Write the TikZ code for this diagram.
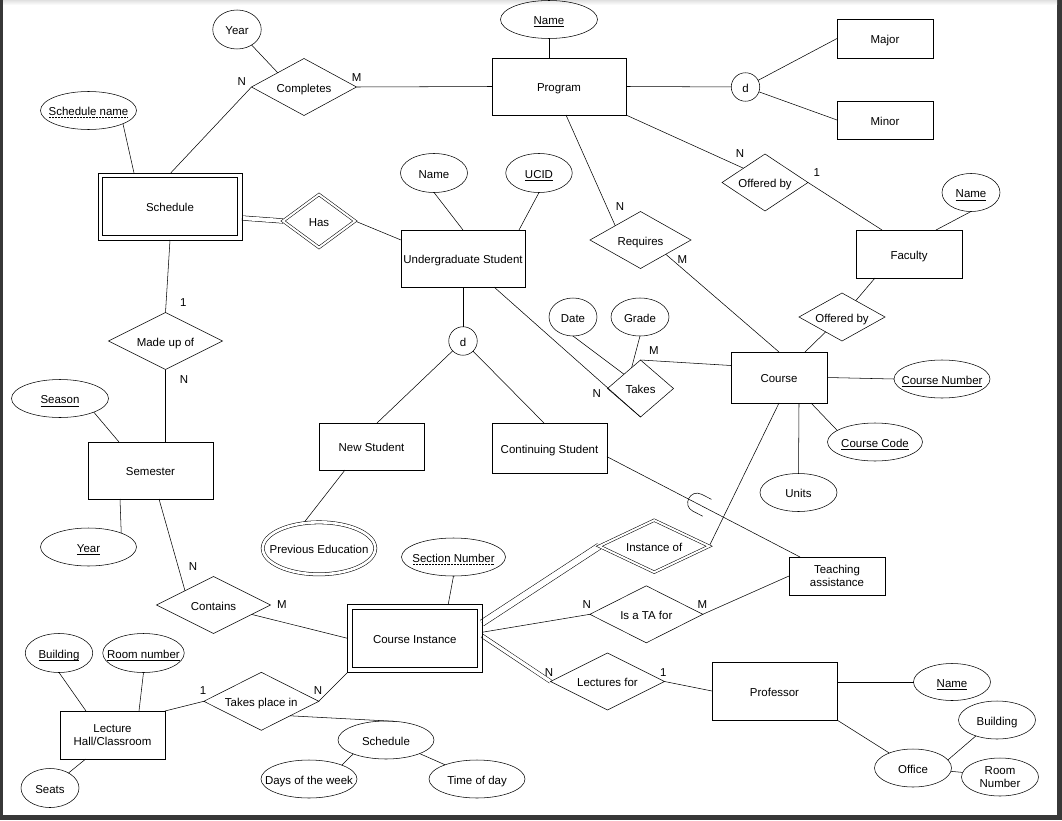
\documentclass[tikz,border=0pt]{standalone}
\usepackage{fontspec}
\setmainfont{Liberation Sans}
\usetikzlibrary{shapes.geometric,calc}
\pgfdeclarelayer{page}
\pgfdeclarelayer{bg}
\pgfsetlayers{page,bg,main}
\newcommand{\zb}[1]{\makebox[0pt]{#1}}
\newcommand{\uln}[1]{\setbox0\hbox{#1}\rlap{\copy0}\raisebox{-1.8pt}{\rule{\wd0}{0.55pt}}}
\newcommand{\dotuln}[1]{\setbox0\hbox{#1}\rlap{\copy0}\raisebox{-1.8pt}{\hbox to \wd0{\leaders\hbox to 1.1pt{\hss\rule{0.55pt}{0.55pt}\hss}\hfill}}}
\begin{document}
\begin{tikzpicture}[x=0.75pt,y=-0.75pt,line width=0.8pt,
 every node/.style={font=\fontsize{8.6pt}{9.8pt}\selectfont,inner sep=0pt,outer sep=0pt},
 tx/.style={text height=8pt,text depth=0pt},
 ent/.style 2 args={draw,rectangle,align=center,tx,minimum width=#1*0.75pt,minimum height=#2*0.75pt},
 ment/.style 2 args={draw,rectangle,align=center,minimum width=#1*0.75pt,minimum height=#2*0.75pt},
 rel/.style 2 args={draw,diamond,aspect=1.8,tx,minimum width=#1*0.75pt,minimum height=#2*0.75pt},
 wrel/.style 2 args={draw,diamond,aspect=1.8,tx,double,double distance=1.5pt,minimum width=#1*0.75pt,minimum height=#2*0.75pt},
 att/.style 2 args={draw,ellipse,tx,minimum width=#1*0.75pt,minimum height=#2*0.75pt},
 matt/.style 2 args={draw,ellipse,tx,double,double distance=2pt,minimum width=#1*0.75pt,minimum height=#2*0.75pt},
 disj/.style={draw,circle,tx,minimum size=28.5*0.75pt},
 dbl/.style={double,double distance=#1},
]
\useasboundingbox (0,0) rectangle (1062,820);
\begin{pgfonlayer}{page}
\fill[black!78] (0,0) rectangle (1062,820);
\fill[white] (3,0) rectangle (1057,814.5);
\shade[top color=black!12,bottom color=white] (3,0) rectangle (1057,5);
\end{pgfonlayer}

% entities
\node[ent={134}{57}] (prog) at (559,86.5) {Program};
\node[ent={96}{39}] (major) at (885,38.5) {Major};
\node[ent={96}{38}] (minor) at (885,120) {Minor};
\node[ent={106}{48}] (fac) at (909,254) {Faculty};
\node[ent={124}{57}] (ug) at (463,258.5) {Undergraduate Student};
\node[ent={96}{51}] (course) at (779,377.5) {Course};
\node[ent={105}{47}] (newst) at (371.5,446.5) {New Student};
\node[ent={115}{50}] (contst) at (549.5,448) {Continuing Student};
\node[ent={125}{57}] (sem) at (150.5,470.5) {Semester};
\node[ment={96}{38}] (ta) at (837,576) {Teaching\\assistance};
\node[ent={125}{58}] (prof) at (774.5,691) {Professor};
\node[ment={105}{48}] (lh) at (112.5,735) {Lecture\\Hall/Classroom};
% weak entities: outer box plus inner box
\node[ent={144}{67}] (sched) at (170,206.5) {Schedule};
\draw ($(sched.north west)+(4.5,4.5)$) rectangle ($(sched.south east)+(-4.5,-4.5)$);
\node[ent={134.5}{68.2}] (ci) at (414.75,638.3) {Course Instance};
\draw ($(ci.north west)+(5,5)$) rectangle ($(ci.south east)+(-5,-5)$);

% relationships
\node[rel={105}{57}] (cpl) at (304,87) {Completes};
\node[wrel={72}{53}] (has) at (319,221) {Has};
\node[rel={101}{57}] (reqs) at (640.5,240) {Requires};
\node[rel={86}{57}] (ob1) at (765,182.5) {Offered by};
\node[rel={86}{48}] (ob2) at (842,317) {Offered by};
\node[rel={66}{57}] (takes) at (640.5,388.5) {Takes};
\node[rel={114}{57}] (madeup) at (165.5,341) {Made up of};
\node[rel={114}{57}] (contains) at (213.5,605) {Contains};
\node[rel={115}{58}] (tpi) at (261.3,701.3) {Takes place in};
\node[wrel={110}{52}] (inst) at (654.2,546.2) {Instance of};
\node[rel={113}{57}] (ista) at (646.3,614.3) {Is a TA for};
\node[rel={114}{57}] (lect) at (607.5,681.5) {Lectures for};

% attributes
\node[att={48.5}{39}] (yr1) at (237,29.5) {\zb{Year}};
\node[att={97}{38}] (pname) at (549,19.5) {\zb{\uln{Name}}};
\node[att={96}{38}] (schname) at (88.5,110.5) {\zb{\dotuln{Schedule name}}};
\node[att={67}{39}] (ugname) at (434,173) {\zb{Name}};
\node[att={66.5}{39}] (ucid) at (539,173) {\zb{\uln{UCID}}};
\node[att={58}{38}] (fname) at (971,192.5) {\zb{\uln{Name}}};
\node[att={48}{38}] (date) at (573,317) {\zb{Date}};
\node[att={58}{38}] (grade) at (640,317) {\zb{Grade}};
\node[att={96}{38}] (cnum) at (942,379) {\zb{\uln{Course Number}}};
\node[att={95}{38}] (ccode) at (875,442) {\zb{\uln{Course Code}}};
\node[att={77}{38}] (units) at (798.5,492.5) {\zb{Units}};
\node[att={97}{38}] (season) at (60,398.5) {\zb{\uln{Season}}};
\node[att={96}{38}] (yr2) at (88.5,547) {\zb{\uln{Year}}};
\node[matt={112.5}{52}] (prev) at (319,548.3) {\zb{Previous Education}};
\node[att={104}{38}] (secnum) at (453.5,557) {\zb{\dotuln{Section Number}}};
\node[att={67.5}{39}] (bld) at (59,653) {\zb{\uln{Building}}};
\node[att={81.5}{39}] (room) at (143.5,653) {\zb{\uln{Room number}}};
\node[att={58}{39}] (seats) at (50,788) {\zb{Seats}};
\node[att={96}{38}] (sch2) at (386,740) {\zb{Schedule}};
\node[att={96}{38}] (days) at (309,779) {\zb{Days of the week}};
\node[att={96}{38}] (tod) at (477,779) {\zb{Time of day}};
\node[att={77}{37}] (prname) at (952,682) {\zb{\uln{Name}}};
\node[att={77}{38}] (office) at (913,768) {\zb{Office}};
\node[att={77}{38}] (obld) at (997,720) {\zb{Building}};
\node[draw,ellipse,align=center,minimum width=77*0.75pt,minimum height=38*0.75pt] (oroom) at (1000,777) {\zb{Room}\\\zb{Number}};

% disjointness circles
\node[disj] (d1) at (745.5,87) {d};
\node[disj] (d2) at (463,341) {d};

% cardinalities
\node (k1) at (241.7,81.7) {N};
\node (k2) at (356.7,77.7) {M};
\node (k3) at (740,154) {N};
\node (k4) at (816.7,172.7) {1};
\node (k5) at (620,206.7) {N};
\node (k6) at (682.3,260) {M};
\node (k7) at (183.3,302.7) {1};
\node (k8) at (184,380) {N};
\node (k9) at (654,351) {M};
\node (k10) at (596.7,394) {N};
\node (k11) at (193,567) {N};
\node (k12) at (282,604.5) {M};
\node (k13) at (203,691) {1};
\node (k14) at (318,691) {N};
\node (k15) at (586.7,605) {N};
\node (k16) at (702.3,605) {M};
\node (k17) at (549,672.3) {N};
\node (k18) at (663.3,672.3) {1};

\begin{pgfonlayer}{bg}
\draw (yr1) -- ($(cpl.west)!0.5!(cpl.north)$);
\draw (cpl.west) -- ($(sched.north)+(0.7,0)$);
\draw (schname.-21) -- ($(sched.north)+(-36,0)$);
\draw (cpl.east) -- (prog.west);
\draw ($(prog.north)+(-10,0)$) -- (pname.south);
\draw (prog.east) -- (d1);
\draw (d1) -- (major.west);
\draw (d1) -- (minor.west);
\draw (prog.south east) -- ($(ob1.west)!0.5!(ob1.north)$);
\draw (ob1.east) -- ($(fac.north)+(-27,0)$);
\draw (fname.south) -- ($(fac.north)+(27,0)$);
\draw ($(prog.south)+(7,0)$) -- ($(reqs.west)!0.5!(reqs.north)$);
\draw ($(reqs.east)!0.5!(reqs.south)$) -- (course.north);
\draw (ugname.south) -- (ug.north);
\draw (ucid.south) -- ($(ug.north east)+(-6,0)$);
\draw[dbl=3pt] ($(sched.east)+(0,11.5)$) -- (has.west);
\draw (has.east) -- ($(ug.west)+(0,-18.5)$);
\draw (ug.south) -- (d2);
\draw (d2) -- ($(newst.north)+(5.5,0)$);
\draw (d2) -- ($(contst.north)+(-5.5,0)$);
\draw ($(newst.south)+(-26.5,0)$) -- (prev.122);
\draw ($(ug.south east)+(-31,0)$) -- (takes.south);
\draw (date.south) -- ($(takes.west)!0.5!(takes.north)$);
\draw (grade.south) -- ($(takes.west)!0.73!(takes.north)$);
\draw (takes.north) -- ($(course.west)+(0,-12)$);
\draw ($(fac.south)+(-34,0)$) -- ($(ob2.north)!0.32!(ob2.east)$);
\draw ($(ob2.south)!0.38!(ob2.west)$) -- ($(course.north)+(26,0)$);
\draw (course.east) -- (cnum.west);
\draw ($(course.south)+(32,0)$) -- (ccode.163);
\draw ($(course.south)+(20,0)$) -- (units.north);
\draw (course.south) -- (inst.east);
\draw ($(contst.east)+(0,8.7)$) -- ($(ta.north west)+(11,0)$);
\draw (711.4,499.3) -- (701.6,494.3) .. controls (690.3,488.5) and (681.6,505.4) .. (692.9,511.2) -- (702.7,516.2);
\draw (sched.south) -- (madeup.north);
\draw (madeup.south) -- ($(sem.north)+(15,0)$);
\draw (season.-22) -- ($(sem.north west)+(31,0)$);
\draw ($(sem.south west)+(32,0)$) -- (yr2.23);
\draw ($(sem.south west)+(71,0)$) -- ($(contains.west)!0.5!(contains.north)$);
\draw ($(contains.east)!0.33!(contains.south)$) -- (ci.west);
\draw (secnum.south) -- ($(ci.north)+(33.5,0)$);
\draw (bld.south) -- ($(lh.north west)+(26,0)$);
\draw (room.south) -- ($(lh.north east)+(-26,0)$);
\draw ($(lh.south west)+(25.7,0)$) -- (seats);
\draw (lh.north east) -- (tpi.west);
\draw (tpi.east) -- (ci.south west);
\draw ($(tpi.east)!0.5!(tpi.south)$) -- (sch2.63);
\draw (sch2.203) -- (days.23);
\draw (sch2.-22) -- (tod.156);
\draw ($(ci.east)+(0,-6)$) -- (ista.west);
\draw (ista.east) -- (ta.west);
\draw[dbl=4.5pt] ($(ci.east)+(0,-15.3)$) -- (inst.west);
\draw[dbl=2.4pt] ($(ci.east)+(0,-2.5)$) -- (lect.west);
\draw (lect.east) -- (prof.west);
\draw ($(prof.east)+(0,-9)$) -- (prname.west);
\draw (prof.south east) -- (office);
\draw (office.13) -- (obld.217);
\draw (office.-5) -- (oroom.173);
\end{pgfonlayer}
\end{tikzpicture}
\end{document}
